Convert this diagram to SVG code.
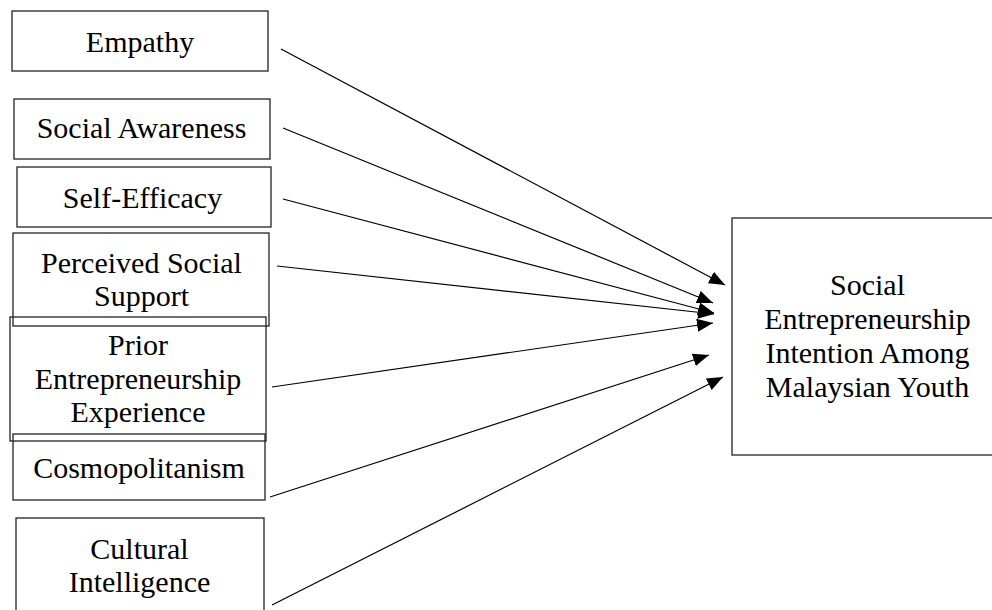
<svg xmlns="http://www.w3.org/2000/svg" width="992" height="610" viewBox="0 0 992 610">
<style>
.box{fill:none;stroke:#222;stroke-width:1.3}
.t{font-family:"Liberation Serif","Times New Roman",serif;font-size:30px;fill:#000;text-anchor:middle}
.c{stroke:#000;stroke-width:1.2;fill:none;marker-end:url(#ah)}
</style>
<defs>
<marker id="ah" markerUnits="userSpaceOnUse" markerWidth="17" markerHeight="14" refX="16" refY="6.5" orient="auto">
<path d="M0,0 L16,6.5 L0,13 z" fill="#000"/>
</marker>
</defs>
<rect width="992" height="610" fill="#fff"/>
<g id="empathy"><rect class="box" x="12" y="11" width="256" height="60"/><text class="t" x="140" y="52">Empathy</text></g>
<g id="social-awareness"><rect class="box" x="14" y="99" width="256" height="60"/><text class="t" x="141.5" y="138">Social Awareness</text></g>
<g id="self-efficacy"><rect class="box" x="17" y="167" width="254" height="60"/><text class="t" x="142.5" y="208">Self-Efficacy</text></g>
<g id="perceived-social-support"><rect class="box" x="13" y="233" width="256" height="93"/><text class="t" x="141.5" y="273">Perceived Social</text><text class="t" x="141.5" y="306">Support</text></g>
<g id="prior-experience"><rect class="box" x="10" y="317" width="256" height="124"/><text class="t" x="138" y="355">Prior</text><text class="t" x="138" y="389">Entrepreneurship</text><text class="t" x="138" y="422">Experience</text></g>
<g id="cosmopolitanism"><rect class="box" x="13" y="434" width="252" height="66"/><text class="t" x="139" y="478">Cosmopolitanism</text></g>
<g id="cultural-intelligence"><rect class="box" x="16" y="518" width="248" height="110"/><text class="t" x="139.5" y="559">Cultural</text><text class="t" x="139.5" y="592">Intelligence</text></g>
<g id="intention"><rect class="box" x="732" y="218" width="280" height="237"/><text class="t" x="867.5" y="295">Social</text><text class="t" x="867.5" y="329">Entrepreneurship</text><text class="t" x="867.5" y="363">Intention Among</text><text class="t" x="867.5" y="397">Malaysian Youth</text></g>
<g id="connectors">
<line class="c" x1="281" y1="49" x2="725" y2="285"/>
<line class="c" x1="283" y1="128" x2="713" y2="303"/>
<line class="c" x1="283" y1="199" x2="714" y2="313"/>
<line class="c" x1="277" y1="266" x2="714" y2="314"/>
<line class="c" x1="272" y1="387" x2="713" y2="323"/>
<line class="c" x1="270" y1="497" x2="709" y2="355"/>
<line class="c" x1="272" y1="605" x2="723" y2="377"/>
</g>
</svg>
